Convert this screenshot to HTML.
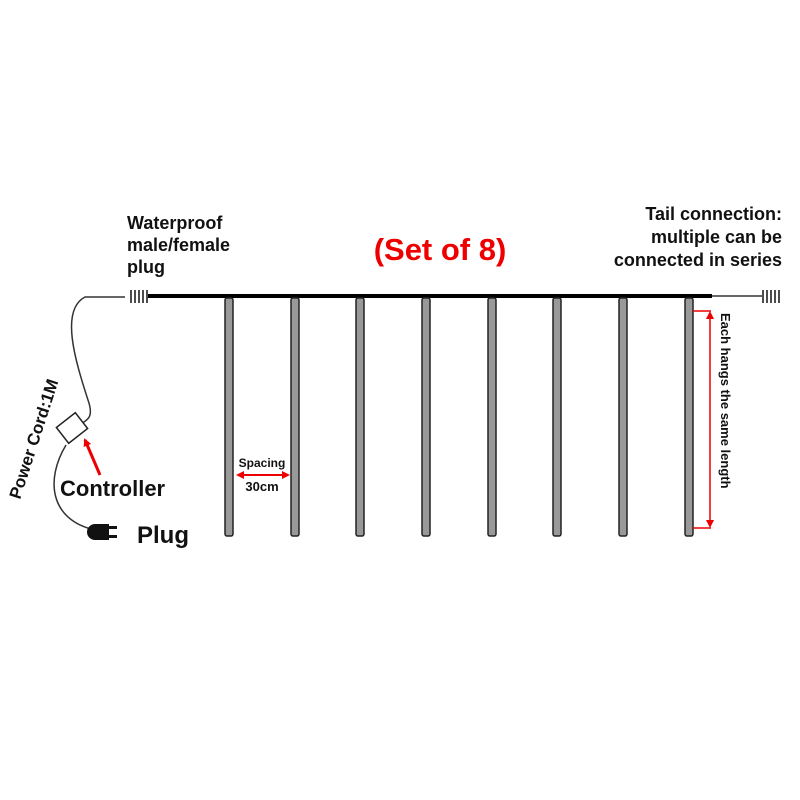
<!DOCTYPE html>
<html><head><style>
body{margin:0;background:#fff}
svg{display:block}
text{font-family:"Liberation Sans","DejaVu Sans",sans-serif;font-weight:bold}
</style></head><body>
<svg width="800" height="800" viewBox="0 0 800 800" xmlns="http://www.w3.org/2000/svg">
<defs>
<marker id="ah" markerWidth="8" markerHeight="8" refX="6" refY="4" orient="auto-start-reverse" markerUnits="userSpaceOnUse">
<path d="M0,0 L8,4 L0,8 Z" fill="#e00"/></marker>
</defs>
<text x="127" y="229" font-size="18" fill="#111">Waterproof</text>
<text x="127" y="251" font-size="18" fill="#111">male/female</text>
<text x="127" y="273" font-size="18" fill="#111">plug</text>
<text x="440" y="260" font-size="31" fill="#e00" text-anchor="middle">(Set of 8)</text>
<text x="782" y="220" font-size="18" fill="#111" text-anchor="end">Tail connection:</text>
<text x="782" y="243" font-size="18" fill="#111" text-anchor="end">multiple can be</text>
<text x="782" y="266" font-size="18" fill="#111" text-anchor="end">connected in series</text>
<!-- cord -->
<path d="M125,297 L85,297 C60,310 75,360 88,400 C95,420 85,420 80,425" fill="none" stroke="#333" stroke-width="1.5"/>
<path d="M66,445 C45,480 50,520 95,530" fill="none" stroke="#333" stroke-width="1.5"/>
<rect x="60" y="418" width="24" height="20" fill="#fff" stroke="#222" stroke-width="1.5" transform="rotate(-38 72 428)"/>
<line x1="100" y1="475" x2="85" y2="440" stroke="#e00" stroke-width="3" marker-end="url(#ah)"/>
<text x="60" y="496" font-size="22" fill="#111">Controller</text>
<text transform="translate(20,500) rotate(-72)" font-size="17" fill="#111">Power Cord:1M</text>
<path d="M95,524 h14 v16 h-14 a8,8 0 0 1 0,-16z" fill="#111"/>
<rect x="109" y="526" width="8" height="3" fill="#111"/><rect x="109" y="535" width="8" height="3" fill="#111"/>
<text x="137" y="543" font-size="24" fill="#111">Plug</text>
<!-- plugs -->
<g stroke="#111" stroke-width="1.5">
<line x1="131" y1="290" x2="131" y2="303"/><line x1="135" y1="290" x2="135" y2="303"/><line x1="139" y1="290" x2="139" y2="303"/><line x1="143" y1="290" x2="143" y2="303"/><line x1="147" y1="290" x2="147" y2="303"/>
<line x1="763" y1="290" x2="763" y2="303"/><line x1="767" y1="290" x2="767" y2="303"/><line x1="771" y1="290" x2="771" y2="303"/><line x1="775" y1="290" x2="775" y2="303"/><line x1="779" y1="290" x2="779" y2="303"/>
</g>
<line x1="148" y1="296" x2="712" y2="296" stroke="#000" stroke-width="4"/>
<line x1="712" y1="296" x2="762" y2="296" stroke="#333" stroke-width="1.5"/>
<!-- tubes -->
<g fill="#999" stroke="#222" stroke-width="1.5">
<rect x="225" y="298" width="8" height="238" rx="2"/>
<rect x="291" y="298" width="8" height="238" rx="2"/>
<rect x="356" y="298" width="8" height="238" rx="2"/>
<rect x="422" y="298" width="8" height="238" rx="2"/>
<rect x="488" y="298" width="8" height="238" rx="2"/>
<rect x="553" y="298" width="8" height="238" rx="2"/>
<rect x="619" y="298" width="8" height="238" rx="2"/>
<rect x="685" y="298" width="8" height="238" rx="2"/>
</g>
<text x="262" y="467" font-size="12" fill="#111" text-anchor="middle">Spacing</text>
<line x1="238" y1="475" x2="288" y2="475" stroke="#e00" stroke-width="2" marker-start="url(#ah)" marker-end="url(#ah)"/>
<text x="262" y="491" font-size="13" fill="#111" text-anchor="middle">30cm</text>
<path d="M693,311 H711 M693,528 H711" stroke="#e00" stroke-width="1.5"/>
<line x1="710" y1="313" x2="710" y2="526" stroke="#e00" stroke-width="1.5" marker-start="url(#ah)" marker-end="url(#ah)"/>
<text transform="translate(721,313) rotate(90)" font-size="13" fill="#111">Each hangs the same length</text>
</svg>
</body></html>
